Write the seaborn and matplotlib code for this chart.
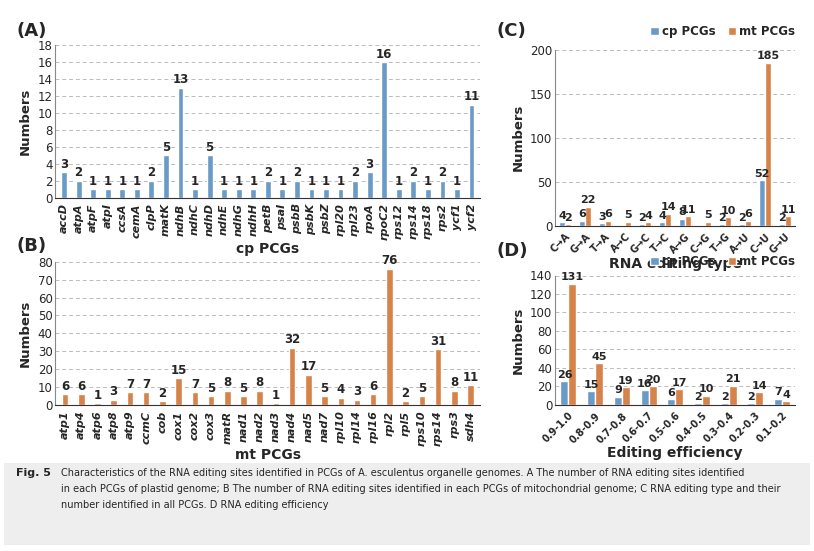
import matplotlib
matplotlib.use("Agg")
import matplotlib.pyplot as plt
import seaborn as sns
import pandas as pd

cp_genes = ["accD","atpA","atpF","atpI","ccsA","cemA","clpP","matK","ndhB","ndhC","ndhD","ndhE","ndhG","ndhH","petB","psaI","psbB","psbK","psbZ","rpl20","rpl23","rpoA","rpoC2","rps12","rps14","rps18","rps2","ycf1","ycf2"]
cp_vals = [3,2,1,1,1,1,2,5,13,1,5,1,1,1,2,1,2,1,1,1,2,3,16,1,2,1,2,1,11]
mt_genes = ["atp1","atp4","atp6","atp8","atp9","ccmC","cob","cox1","cox2","cox3","matR","nad1","nad2","nad3","nad4","nad5","nad7","rpl10","rpl14","rpl16","rpl2","rpl5","rps10","rps14","rps3","sdh4"]
mt_vals = [6,6,1,3,7,7,2,15,7,5,8,5,8,1,32,17,5,4,3,6,76,2,5,31,8,11]
types = ["C→A","G→A","T→A","A→C","G→C","T→C","A→G","C→G","T→G","A→U","C→U","G→U"]
type_cp = [4,6,3,0,2,4,8,0,2,2,52,2]
type_mt = [2,22,6,5,4,14,11,5,10,6,185,11]
eff = ["0.9-1.0","0.8-0.9","0.7-0.8","0.6-0.7","0.5-0.6","0.4-0.5","0.3-0.4","0.2-0.3","0.1-0.2"]
eff_cp = [26,15,9,16,6,2,2,2,7]
eff_mt = [131,45,19,20,17,10,21,14,4]

BLUE = "#5B9BD5"; ORANGE = "#ED7D31"
sns.set_style("white")
plt.rcParams['font.family'] = ['DejaVu Sans']

fig = plt.figure(figsize=(8.14, 5.51), dpi=100)

def style(ax, ymax, step, xlabel, ylabel):
    ax.set_ylim(0, ymax)
    ax.set_yticks(range(0, ymax + 1, step))
    ax.yaxis.grid(True, linestyle=(0, (4, 3)), color="#bbbbbb", linewidth=0.7)
    ax.set_axisbelow(True)
    for s in ["top", "right"]:
        ax.spines[s].set_visible(False)
    ax.spines["left"].set_color("#888888")
    ax.spines["bottom"].set_color("#333333")
    ax.set_xlabel(xlabel, fontsize=10, fontweight="bold", labelpad=1)
    ax.set_ylabel(ylabel, fontsize=9.5, fontweight="bold")
    ax.tick_params(axis="y", labelsize=8.5, length=0, pad=2)
    ax.tick_params(axis="x", length=3, pad=1)

# A
axA = fig.add_axes([0.068, 0.641, 0.522, 0.277])
sns.barplot(x=cp_genes, y=cp_vals, color=BLUE, width=0.4, ax=axA)
style(axA, 18, 2, "cp PCGs", "Numbers")
axA.bar_label(axA.containers[0], fontsize=8.5, fontweight="bold", padding=1)
axA.set_xticks(range(len(cp_genes)))
axA.set_xticklabels(cp_genes, rotation=90, fontsize=8, style="italic", fontweight="bold")
axA.set_xlim(-0.6, len(cp_genes) - 0.4)
fig.text(0.02, 0.935, "(A)", fontsize=13, fontweight="bold")

# B
axB = fig.add_axes([0.068, 0.265, 0.522, 0.26])
sns.barplot(x=mt_genes, y=mt_vals, color=ORANGE, width=0.4, ax=axB)
style(axB, 80, 10, "mt PCGs", "Numbers")
axB.bar_label(axB.containers[0], fontsize=8.5, fontweight="bold", padding=1)
axB.set_xticks(range(len(mt_genes)))
axB.set_xticklabels(mt_genes, rotation=90, fontsize=8, style="italic", fontweight="bold")
axB.set_xlim(-0.6, len(mt_genes) - 0.4)
fig.text(0.02, 0.545, "(B)", fontsize=13, fontweight="bold")

def grouped(ax, cats, cp, mt, leg_y):
    df = pd.DataFrame({"cat": cats * 2, "val": cp + mt,
                       "grp": ["cp PCGs"] * len(cats) + ["mt PCGs"] * len(cats)})
    sns.barplot(data=df, x="cat", y="val", hue="grp", palette=[BLUE, ORANGE],
                width=0.6, ax=ax)
    for c in ax.containers:
        labels = [str(int(v)) if v > 0 else "" for v in c.datavalues]
        ax.bar_label(c, labels=labels, fontsize=8, fontweight="bold", padding=1)
    ax.legend(loc="lower right", bbox_to_anchor=(1.02, leg_y), ncol=2, frameon=False,
              prop={"weight": "bold", "size": 8.5}, handlelength=0.7,
              columnspacing=1.0, handletextpad=0.3, borderaxespad=0)

# C
axC = fig.add_axes([0.682, 0.59, 0.295, 0.32])
grouped(axC, types, type_cp, type_mt, 1.04)
style(axC, 200, 50, "RNA editing type", "Numbers")
axC.set_xticks(range(len(types)))
axC.set_xticklabels(types, rotation=45, fontsize=7, fontweight="bold", ha="right", rotation_mode="anchor")
fig.text(0.61, 0.935, "(C)", fontsize=13, fontweight="bold")

# D
axD = fig.add_axes([0.682, 0.265, 0.295, 0.235])
grouped(axD, eff, eff_cp, eff_mt, 1.02)
style(axD, 140, 20, "Editing efficiency", "Numbers")
axD.set_xticks(range(len(eff)))
axD.set_xticklabels(eff, rotation=45, fontsize=7, fontweight="bold", ha="right", rotation_mode="anchor")
fig.text(0.61, 0.535, "(D)", fontsize=13, fontweight="bold")

# caption
fig.patches.append(plt.Rectangle((0.005, 0.01), 0.99, 0.15, transform=fig.transFigure,
                                 facecolor="#EEEEEE", edgecolor="none", zorder=-1))
fig.text(0.02, 0.15, "Fig. 5", fontsize=8, fontweight="bold", va="top")
cap = ("Characteristics of the RNA editing sites identified in PCGs of A. esculentus organelle genomes. A The number of RNA editing sites identified\n"
       "in each PCGs of plastid genome; B The number of RNA editing sites identified in each PCGs of mitochondrial genome; C RNA editing type and their\n"
       "number identified in all PCGs. D RNA editing efficiency")
fig.text(0.075, 0.15, cap, fontsize=7, va="top", linespacing=1.7)

fig.savefig("out.png", dpi=100)
